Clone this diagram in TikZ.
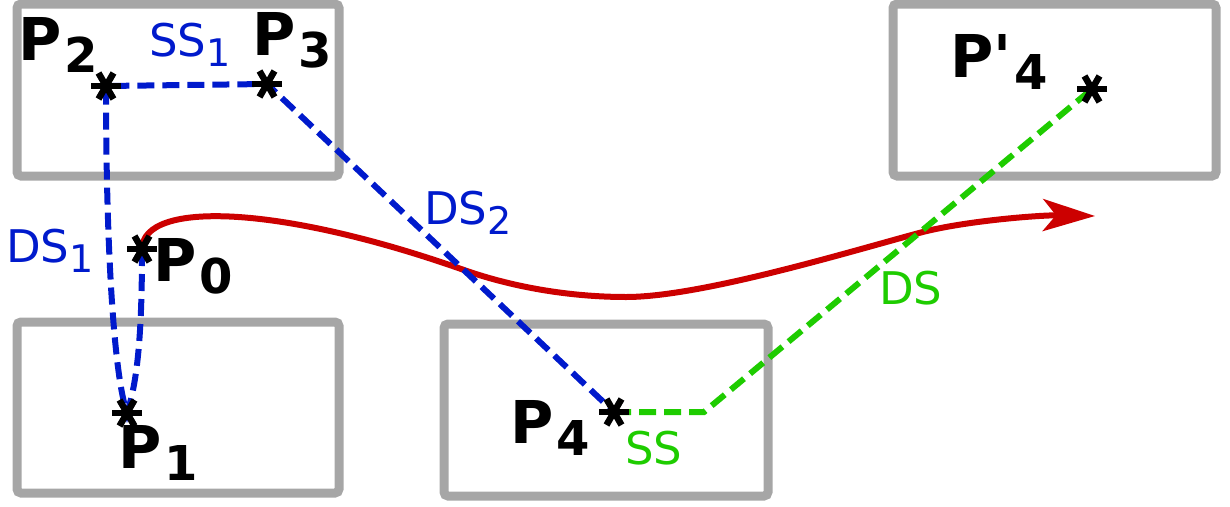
\documentclass[tikz,border=0pt]{standalone}
\usepackage{fontspec}
\newfontfamily\dv{DejaVu Sans}
\usetikzlibrary{arrows.meta}
\definecolor{boxgray}{RGB}{166,166,166}
\definecolor{myblue}{RGB}{0,26,204}
\definecolor{mygreen}{RGB}{30,204,0}
\definecolor{myred}{RGB}{204,0,0}
\newcommand\mysubB[1]{\kern3pt\raisebox{-12pt}{\fontsize{48}{48}\selectfont #1}}
\newcommand\mysubR[1]{\raisebox{-10pt}{\fontsize{38}{38}\selectfont #1}}
\begin{document}
\begin{tikzpicture}[x=1pt,y=-1pt,
  box/.style={draw=boxgray, line width=9pt, rounded corners=4pt},
  bluepath/.style={draw=myblue, line width=6pt, dash pattern=on 17pt off 8pt},
  greenpath/.style={draw=mygreen, line width=6pt, dash pattern=on 17pt off 8pt},
  redpath/.style={draw=myred, line width=6pt, -{Stealth[length=52pt,width=32pt,inset=13pt]}},
  starline/.style={draw=black, line width=6.5pt},
  plab/.style={anchor=base west, inner sep=0pt, font=\dv\bfseries\fontsize{59}{59}\selectfont},
  slab/.style={anchor=base west, inner sep=0pt, font=\dv\fontsize{45}{45}\selectfont}
]
\useasboundingbox (0,0) rectangle (1230,506);
% boxes
\draw[box] (17,4) rectangle (339,176);
\draw[box] (17,322) rectangle (339,493);
\draw[box] (444,324) rectangle (768,496);
\draw[box] (893,4) rectangle (1216,176);
% points
\coordinate (P0) at (142,249);
\coordinate (P1) at (127,413);
\coordinate (P2) at (106,86);
\coordinate (P3) at (267,84);
\coordinate (P4) at (614,412);
\coordinate (P4b) at (1092,89);
\coordinate (K) at (704,412);
\coordinate (tip) at (1095,216);
% red trajectory
\draw[redpath] (P0) .. controls (143,200) and (280,205) .. (464,270)
  .. controls (518,289) and (576,297) .. (626,297)
  .. controls (700,297) and (845,253) .. (919,233)
  .. controls (963,221) and (1040,215) .. (tip);
% blue path
\draw[bluepath] (P0) .. controls (142,330) and (138,380) .. (P1)
  .. controls (114,375) and (106,250) .. (P2) -- (P3) -- (P4);
% green path
\draw[greenpath] (P4) -- (K) -- (P4b);
% stars
\foreach \p in {P0,P1,P2,P3,P4,P4b}{
  \draw[starline] ([shift={(0:15)}]\p) -- ([shift={(180:15)}]\p);
  \draw[starline] ([shift={(60:15)}]\p) -- ([shift={(240:15)}]\p);
  \draw[starline] ([shift={(120:15)}]\p) -- ([shift={(300:15)}]\p);
}
% labels
\node[plab] (lP2) at (18,60) {P\mysubB{2}};
\node[plab] (lP3) at (252,55) {P\mysubB{3}};
\node[plab] (lP0) at (153,281) {P\mysubB{0}};
\node[plab] (lP1) at (118,468) {P\mysubB{1}};
\node[plab] (lP4) at (510,443) {P\mysubB{4}};
\node[plab] (lP4b) at (950,77) {P'\mysubB{4}};
\node[slab, text=myblue] (lSS1) at (149,56) {SS\mysubR{1}};
\node[slab, text=myblue] (lDS1) at (6,262) {DS\mysubR{1}};
\node[slab, text=myblue] (lDS2) at (424,224) {DS\mysubR{2}};
\node[slab, text=mygreen] (lDS) at (879,304) {DS};
\node[slab, text=mygreen] (lSS) at (625,464) {SS};
\end{tikzpicture}
\end{document}
